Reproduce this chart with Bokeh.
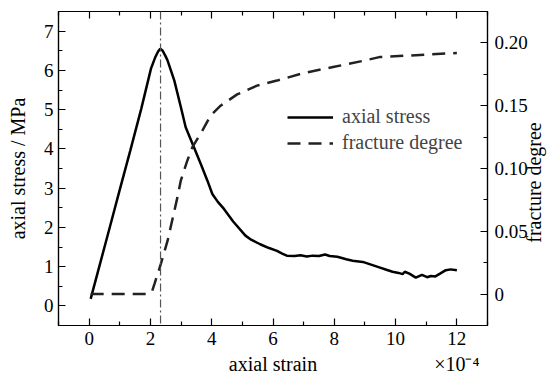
import math
from bokeh.plotting import figure
from bokeh.models import (LinearAxis, Range1d, Span, Legend, LegendItem, FixedTicker)
from bokeh.embed import file_html
from bokeh.resources import INLINE

# ---- data ----
strain_stress = [0.05, 0.3, 0.7, 1.0, 1.34, 1.7, 2.02, 2.15, 2.25, 2.32, 2.4, 2.5,
                 2.56, 2.78, 3.0, 3.15, 3.42, 3.65, 3.86, 4.02, 4.2, 4.4, 4.7, 5.1,
                 5.3, 5.58, 5.85, 6.13, 6.3, 6.45, 6.7, 6.9, 7.1, 7.3, 7.5, 7.7,
                 7.85, 8.1, 8.39, 8.6, 8.93, 9.2, 9.47, 9.7, 9.9, 10.1, 10.23, 10.3,
                 10.45, 10.66, 10.86, 11.03, 11.15, 11.3, 11.45, 11.64, 11.8, 12.0]
axial_stress = [0.18, 0.91, 2.08, 2.96, 3.95, 5.02, 6.05, 6.32, 6.48, 6.55, 6.5, 6.35,
                6.25, 5.74, 5.04, 4.55, 4.04, 3.6, 3.19, 2.85, 2.65, 2.47, 2.15, 1.79,
                1.68, 1.57, 1.48, 1.40, 1.33, 1.28, 1.27, 1.29, 1.26, 1.28, 1.27, 1.31,
                1.27, 1.25, 1.19, 1.15, 1.12, 1.05, 0.98, 0.92, 0.87, 0.84, 0.81, 0.87,
                0.82, 0.72, 0.79, 0.73, 0.76, 0.75, 0.82, 0.91, 0.93, 0.91]

strain_frac = [0.05, 1.9, 2.05, 2.13, 2.34, 2.56, 2.88, 2.99, 3.2, 3.37, 3.69, 3.96,
               4.29, 4.83, 5.48, 6.13, 7.0, 8.0, 9.0, 9.47, 10.5, 11.2, 12.0]
fracture_degree = [0.0, 0.0, 0.002, 0.008, 0.024, 0.0425, 0.077, 0.0903, 0.106, 0.117,
                   0.130, 0.142, 0.150, 0.159, 0.166, 0.170, 0.176, 0.181, 0.186,
                   0.1887, 0.190, 0.191, 0.192]

peak_strain = 2.33

x_ticks = [0, 2, 4, 6, 8, 10, 12]
x_minor = [-1, 1, 3, 5, 7, 9, 11, 13]
y_ticks = [0, 1, 2, 3, 4, 5, 6, 7]
y_minor = [-0.5, 0.5, 1.5, 2.5, 3.5, 4.5, 5.5, 6.5, 7.5]
f_ticks = [0, 0.05, 0.10, 0.15, 0.20]
f_minor = [-0.025, 0.025, 0.075, 0.125, 0.175, 0.225]
f_labels = {0: "0", 0.05: "0.05", 0.1: "0.10", 0.15: "0.15", 0.2: "0.20"}

x_title = "axial strain"
x_scale_note = "×10⁻⁴"
y_title = "axial stress / MPa"
f_title = "fracture degree"

FONT = "Liberation Serif"
FS_TICK = "19px"
FS = "20px"

p = figure(width=559, height=379, output_backend="svg", toolbar_location=None,
           x_range=Range1d(-1, 13), y_range=Range1d(-0.5, 7.5),
           min_border_left=58, min_border_right=69, min_border_top=11,
           min_border_bottom=54)
p.extra_y_ranges = {"frac": Range1d(-0.025, 0.225)}
p.grid.visible = False
p.outline_line_color = "black"
p.outline_line_width = 1.2
p.background_fill_color = "white"
p.border_fill_color = "white"


def style(ax, major, minor):
    ax.ticker = FixedTicker(ticks=major, minor_ticks=minor)
    ax.major_tick_in = 7
    ax.major_tick_out = 0
    ax.minor_tick_in = 4
    ax.minor_tick_out = 0
    ax.major_tick_line_color = "black"
    ax.minor_tick_line_color = "black"
    ax.major_tick_line_width = 1.2
    ax.minor_tick_line_width = 1.2
    ax.axis_line_color = "black"
    ax.axis_line_width = 1.2
    ax.major_label_text_font = FONT
    ax.major_label_text_font_size = FS_TICK
    ax.major_label_text_color = "black"
    ax.axis_label_text_font = FONT
    ax.axis_label_text_font_size = FS
    ax.axis_label_text_font_style = "normal"
    ax.axis_label_text_color = "black"


def title_axis(ax, ticks, labels, orientation=None, standoff=5):
    # an axis without marks, whose only tick labels are the titles
    ax.ticker = FixedTicker(ticks=ticks, minor_ticks=[])
    ax.major_label_overrides = labels
    ax.major_tick_in = 0
    ax.major_tick_out = 0
    ax.minor_tick_in = 0
    ax.minor_tick_out = 0
    ax.axis_line_color = None
    ax.major_tick_line_color = None
    ax.major_label_text_font = FONT
    ax.major_label_text_font_size = FS
    ax.major_label_text_color = "black"
    ax.major_label_standoff = standoff
    if orientation is not None:
        ax.major_label_orientation = orientation


def mark_axis(ticks, length, line=True):
    # an axis that draws only tick marks (as minor ticks, so no labels)
    ax = LinearAxis(ticker=FixedTicker(ticks=[], minor_ticks=ticks))
    ax.minor_tick_in = length
    ax.minor_tick_out = 0
    ax.minor_tick_line_color = "black"
    ax.minor_tick_line_width = 1.2
    ax.major_tick_in = 0
    ax.major_tick_out = 0
    ax.axis_line_color = "black" if line else None
    ax.axis_line_width = 1.2
    return ax


xa = p.xaxis[0]
style(xa, x_ticks, x_minor)
xa.major_label_standoff = 6

xt = LinearAxis()
title_axis(xt, [6, 12], {6: x_title, 12: x_scale_note}, standoff=5)
p.add_layout(xt, "below")

ya = p.yaxis[0]
style(ya, y_ticks, y_minor)
ya.axis_label = y_title
ya.major_label_standoff = 5
ya.axis_label_standoff = 12

p.add_layout(mark_axis(x_ticks, 7), "above")
p.add_layout(mark_axis(x_minor, 4, line=False), "above")

ra = LinearAxis(y_range_name="frac")
style(ra, f_ticks, f_minor)
ra.major_label_overrides = f_labels
ra.major_label_standoff = 7
p.add_layout(ra, "right")

rt = LinearAxis(y_range_name="frac")
title_axis(rt, [0.0409], {0.0409: f_title}, orientation=math.pi / 2, standoff=4)
p.add_layout(rt, "right")

p.add_layout(Span(location=peak_strain, dimension="height", line_color="#555555",
                  line_width=1.2, line_dash="8 3 2 3"))

r1 = p.line(strain_stress, axial_stress, line_color="black", line_width=2.5)
r2 = p.line(strain_frac, fracture_degree, y_range_name="frac", line_color="#222222",
            line_width=2.5, line_dash="13 8")

legend = Legend(items=[LegendItem(label="axial stress", renderers=[r1]),
                       LegendItem(label="fracture degree", renderers=[r2])],
                location=(229, 171), padding=0, margin=0, spacing=3,
                glyph_width=46, glyph_height=22, label_height=22, label_standoff=9,
                label_text_font=FONT, label_text_font_size=FS,
                background_fill_alpha=0, border_line_color=None)
p.add_layout(legend)

open("out.html", "w").write(file_html(p, INLINE))
